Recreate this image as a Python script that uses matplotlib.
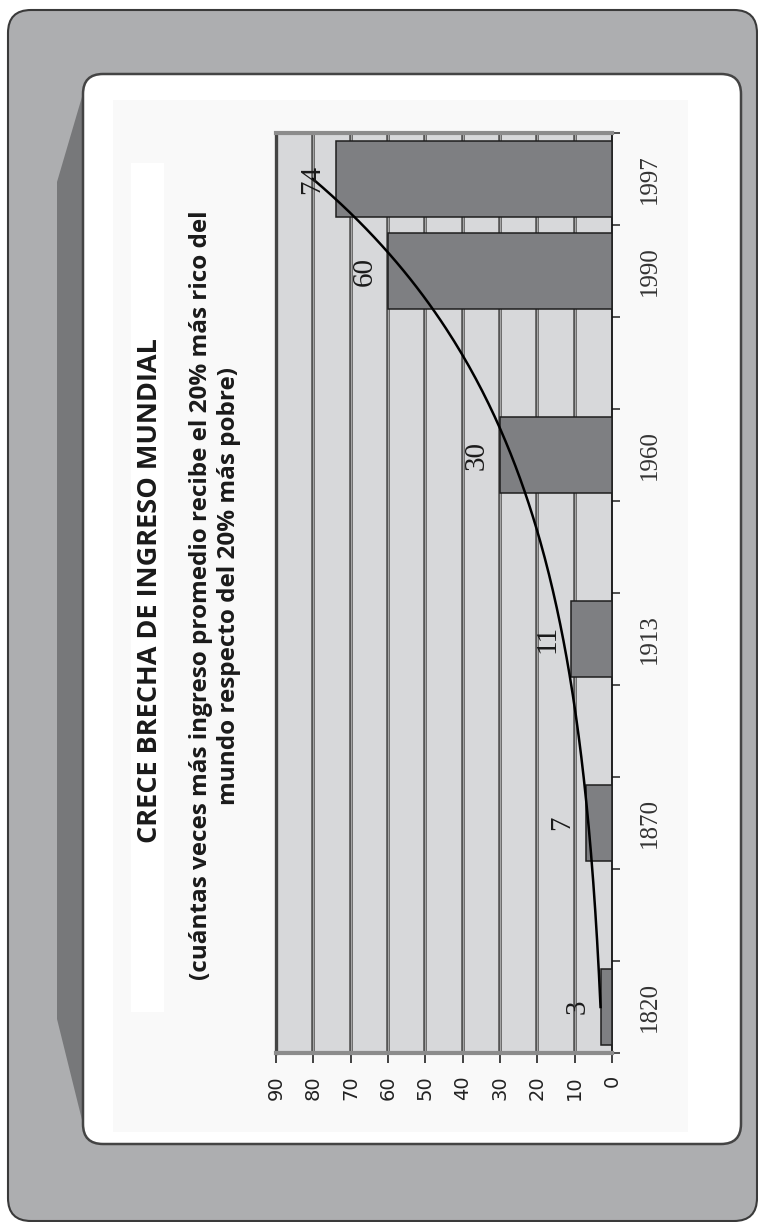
import numpy as np
import matplotlib.pyplot as plt
from matplotlib.patches import FancyBboxPatch, Polygon, Rectangle

# categories as laid out on the sheet (blank rows between some years)
categories = ["1820", "", "1870", "", "1913", "", "1960", "", "1990", "1997"]
gap = [3, None, 7, None, 11, None, 30, None, 60, 74]
value_ticks = [0, 10, 20, 30, 40, 50, 60, 70, 80, 90]

title = "CRECE BRECHA DE INGRESO MUNDIAL"
subtitle_1 = "(cuántas veces más ingreso promedio recibe el 20% más rico del"
subtitle_2 = "mundo respecto del 20% más pobre)"

W, H = 758, 1222
fig = plt.figure(figsize=(W / 100, H / 100), dpi=100, facecolor="white")

# frame drawn in pixel units
bg = fig.add_axes([0, 0, 1, 1])
bg.set_xlim(0, W)
bg.set_ylim(H, 0)
bg.axis("off")
bg.add_patch(FancyBboxPatch((8, 10), 749, 1211, boxstyle="round,pad=0,rounding_size=23",
                            fc="#adaeb0", ec="#3a3a3a", lw=1.5))
bg.add_patch(Polygon([(84, 90), (57, 182), (57, 1019), (84, 1128)], closed=True,
                     fc="#77787a", ec="none"))
bg.add_patch(FancyBboxPatch((83, 74), 658, 1070, boxstyle="round,pad=0,rounding_size=20",
                            fc="white", ec="#444444", lw=1.8))
bg.add_patch(Rectangle((113, 100), 575, 1032, fc="#f9f9f9", ec="none"))
bg.add_patch(Rectangle((131, 163), 33, 849, fc="white", ec="none"))

# chart, turned on its side: values run right-to-left, years bottom-to-top
ax = fig.add_axes([276 / W, 1 - 1053 / H, 336 / W, 920 / H])
ax.set_facecolor("#d7d8da")

pos = np.arange(len(categories))
has = np.array([g is not None for g in gap])
vals = np.array([g for g in gap if g is not None], dtype=float)

for v in value_ticks[1:-1]:
    ax.axvline(v, color="#555555", lw=2.6, zorder=1)
    ax.axvline(v, color="#b5b5b5", lw=0.6, zorder=1.5)

ax.barh(pos[has], vals, height=0.82, color="#7e7f82", edgecolor="#1e1e1e", lw=1.1, zorder=3)

# exponential trendline fitted on the category index (1-based)
xfit = pos[has] + 1
b, ln_a = np.polyfit(xfit, np.log(vals), 1)
xs = np.linspace(1, len(categories), 200)
ax.plot(np.exp(ln_a) * np.exp(b * xs), xs - 1, color="black", lw=1.8, zorder=4)

for p, v in zip(pos[has], vals):
    ax.annotate(f"{v:.0f}", (v, p), xytext=(-17, 0), textcoords="offset points",
                rotation=90, ha="center", va="center", fontsize=21,
                family="Liberation Serif", color="#1a1a1a", zorder=5)

ax.set_xlim(90, 0)
ax.set_ylim(-0.5, len(categories) - 0.5)

ax.set_xticks(value_ticks)
ax.set_xticklabels([str(t) for t in value_ticks], rotation=90, fontsize=14,
                   family="DejaVu Sans", color="#222222")
ax.tick_params(axis="x", direction="out", length=7, width=1.3, color="#333333", pad=9)

ax.yaxis.tick_right()
ax.set_yticks(pos)
ax.set_yticklabels(categories, rotation=90, fontsize=18, family="Liberation Serif",
                   color="#333333", va="center")
ax.set_yticks(np.arange(-0.5, len(categories), 1.0), minor=True)
ax.tick_params(axis="y", which="major", length=0, pad=19)
ax.tick_params(axis="y", which="minor", direction="out", length=6, width=1.2, color="#333333")

ax.spines["left"].set_color("#444444")
ax.spines["left"].set_linewidth(2.4)
ax.spines["right"].set_color("#111111")
ax.spines["right"].set_linewidth(1.3)
for side in ("top", "bottom"):
    ax.spines[side].set_color("#8c8c8c")
    ax.spines[side].set_linewidth(3)

fig.text(150 / W, 1 - 591 / H, title, rotation=90, ha="center", va="center",
         fontsize=19.5, fontweight="bold", family="Open Sans", color="#1a1a1a")
fig.text(201 / W, 1 - 595 / H, subtitle_1, rotation=90, ha="center", va="center",
         fontsize=17.5, fontweight="bold", family="Open Sans", color="#1a1a1a")
fig.text(229 / W, 1 - 586 / H, subtitle_2, rotation=90, ha="center", va="center",
         fontsize=17.5, fontweight="bold", family="Open Sans", color="#1a1a1a")

fig.savefig("out.png", dpi=100, facecolor="white")
